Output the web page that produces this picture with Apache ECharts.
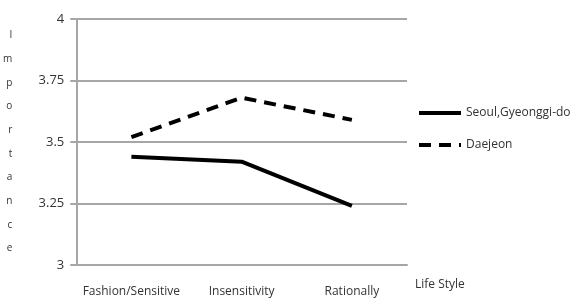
<!DOCTYPE html>
<html>
<head>
<meta charset="utf-8">
<script src="https://cdn.jsdelivr.net/npm/echarts@6/dist/echarts.min.js"></script>
<style>
  html, body { margin: 0; padding: 0; background: #fff; }
  #chart { width: 583px; height: 306px; }
</style>
</head>
<body>
<div id="chart"></div>
<script>
// life style vs importance, two regions
const categories = ['Fashion/Sensitive', 'Insensitivity', 'Rationally']
const seoulValues = [3.44, 3.42, 3.24]
const daejeonValues = [3.52, 3.68, 3.59]
const yTicks = [3, 3.25, 3.5, 3.75, 4]

const font = '"Open Sans", "Liberation Sans", sans-serif'
const gray = '#a6a6a6'

const chart = echarts.init(document.getElementById('chart'))

chart.setOption({
  animation: false,
  textStyle: { fontFamily: font },
  grid: { left: 74, right: 176, top: 19, bottom: 41 },
  legend: {
    orient: 'vertical',
    left: 412,
    top: 102,
    itemWidth: 42,
    itemHeight: 14,
    itemGap: 20,
    itemStyle: { opacity: 0 },
    lineStyle: { width: 4 },
    textStyle: { fontSize: 12, color: '#333', fontFamily: font },
    data: ['Seoul,Gyeonggi-do', 'Daejeon']
  },
  xAxis: {
    type: 'category',
    data: categories,
    boundaryGap: true,
    name: 'Life Style',
    nameLocation: 'end',
    nameGap: 8,
    nameTextStyle: { fontSize: 12, color: '#333', verticalAlign: 'top', padding: [14, 0, 0, 0] },
    axisLine: { lineStyle: { color: gray, width: 2 } },
    axisTick: { show: false },
    axisLabel: { fontSize: 12, color: '#333', margin: 21, interval: 0 }
  },
  yAxis: {
    type: 'value',
    min: yTicks[0],
    max: yTicks[yTicks.length - 1],
    interval: 0.25,
    name: 'I\nm\np\no\nr\nt\na\nn\nc\ne',
    nameLocation: 'middle',
    nameRotate: 0,
    nameGap: 64,
    nameTextStyle: { fontSize: 10, color: '#333', lineHeight: 23.7 },
    axisLine: { show: true, lineStyle: { color: gray, width: 2 } },
    axisTick: { show: true, length: 6, lineStyle: { color: gray, width: 2 } },
    axisLabel: { fontSize: 13, color: '#333', margin: 12 },
    splitLine: { lineStyle: { color: gray, width: 2 } }
  },
  series: [
    {
      name: 'Seoul,Gyeonggi-do',
      type: 'line',
      data: seoulValues,
      symbol: 'none',
      lineStyle: { color: '#000', width: 4 },
      itemStyle: { color: '#000' }
    },
    {
      name: 'Daejeon',
      type: 'line',
      data: daejeonValues,
      symbol: 'none',
      lineStyle: { color: '#000', width: 4, type: [12, 8] },
      itemStyle: { color: '#000' }
    }
  ]
})
</script>
</body>
</html>
